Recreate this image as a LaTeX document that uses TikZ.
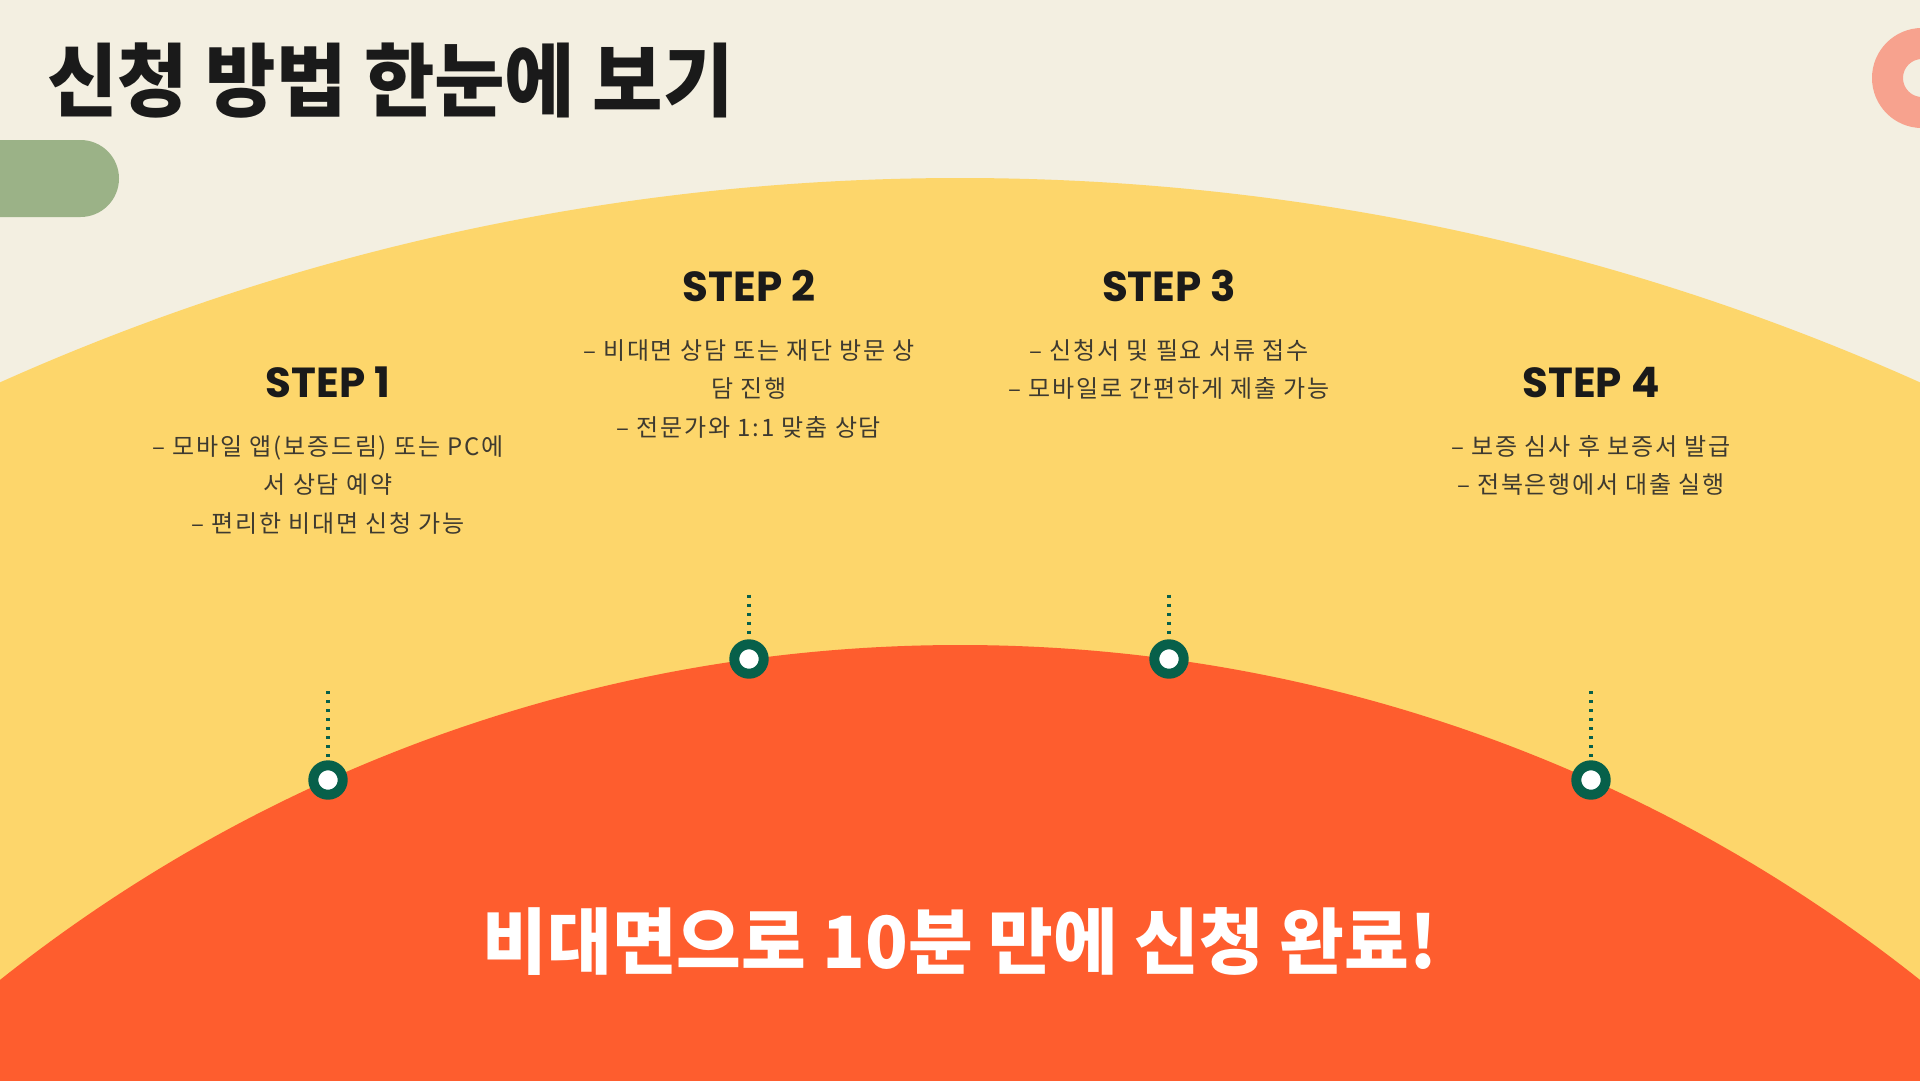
\documentclass[tikz,border=0pt]{standalone}
\usepackage{fontspec}
\usepackage{graphicx}
\newfontfamily\kr{Noto Sans CJK KR}
\newfontfamily\krsp{Noto Sans CJK KR}[LetterSpace=7.5]
\newfontfamily\pop{Poppins}
\definecolor{bgc}{HTML}{F3EFE1}
\definecolor{yel}{HTML}{FDD66B}
\definecolor{redc}{HTML}{FE5D2E}
\definecolor{pillc}{HTML}{9BB287}
\definecolor{ringc}{HTML}{F7A28E}
\definecolor{mgreen}{HTML}{07604A}
\definecolor{headc}{HTML}{1A1A1A}
\definecolor{descc}{HTML}{3E3A30}
\tikzset{
  stephead/.style={font=\pop\bfseries\fontsize{42}{42}\selectfont, text=headc, anchor=base, inner sep=0pt},
  desc/.style={font=\krsp\fontsize{24}{38.5}\selectfont, text=descc, align=center, anchor=north, inner sep=0pt},
  marker/.style={circle, draw=mgreen, line width=10pt, fill=white, minimum size=29.4pt, inner sep=0pt},
  dotline/.style={draw=mgreen, line width=3.3pt, dash pattern=on 3.3pt off 5.7pt}
}
\begin{document}
\begin{tikzpicture}[x=1pt,y=-1pt]
\useasboundingbox (0,0) rectangle (1920,1080);
\clip (0,0) rectangle (1920,1080);
\fill[bgc] (0,0) rectangle (1920,1080);
% big arcs
\fill[yel] (960,2528) circle[radius=2350];
\fill[redc] (960,2188) circle[radius=1543];
% decorations
\fill[pillc, rounded corners=38.5pt] (-80,140) rectangle (119,217);
\draw[ringc, line width=31pt] (1922,78) circle[radius=34.5];
% title
\node[anchor=west, inner sep=0pt, text=headc, font=\kr\bfseries\fontsize{80}{80}\selectfont] (title) at (47,81) {\scalebox{0.957}[1]{신청 방법 한눈에 보기}};
% steps
\node[stephead] (h1) at (328,397) {STEP 1};
\node[desc] (d1) at (328,435) {– 모바일 앱(보증드림) 또는 PC에\\서 상담 예약\\– 편리한 비대면 신청 가능};
\node[stephead] (h2) at (749,301) {STEP 2};
\node[desc] (d2) at (749,339) {– 비대면 상담 또는 재단 방문 상\\담 진행\\– 전문가와 1:1 맞춤 상담};
\node[stephead] (h3) at (1169,301) {STEP 3};
\node[desc] (d3) at (1169,339) {– 신청서 및 필요 서류 접수\\– 모바일로 간편하게 제출 가능};
\node[stephead] (h4) at (1591,397) {STEP 4};
\node[desc] (d4) at (1591,435) {– 보증 심사 후 보증서 발급\\– 전북은행에서 대출 실행};
% markers
\node[marker] (m1) at (328,780) {};
\node[marker] (m2) at (749,659) {};
\node[marker] (m3) at (1169,659) {};
\node[marker] (m4) at (1591,780) {};
\coordinate (t1) at (328,691);
\coordinate (t2) at (749,594.5);
\coordinate (t3) at (1169,594.5);
\coordinate (t4) at (1591,691);
\draw[dotline] (t1) -- (m1.north);
\draw[dotline] (t2) -- (m2.north);
\draw[dotline] (t3) -- (m3.north);
\draw[dotline] (t4) -- (m4.north);
% bottom text
\node[inner sep=0pt, text=white, font=\kr\bfseries\fontsize{72}{72}\selectfont] (bottom) at (960,942) {\scalebox{0.977}[1]{비대면으로 10분 만에 신청 완료!}};
\end{tikzpicture}
\end{document}
